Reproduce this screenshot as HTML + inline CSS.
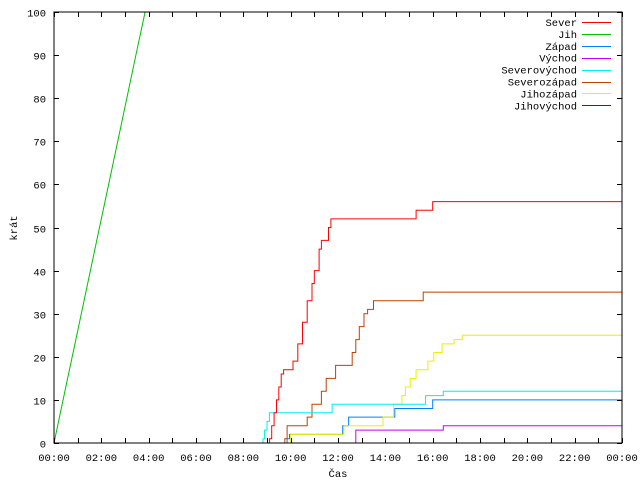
<!DOCTYPE html>
<html><head><meta charset="utf-8"><style>
body{margin:0;background:#fff;width:640px;height:480px;overflow:hidden}
svg text{font-family:"Liberation Mono",monospace;font-size:10.5px;fill:#000}
</style></head><body>
<svg id="chart" width="640" height="480" xmlns="http://www.w3.org/2000/svg">
<rect x="0" y="0" width="640" height="480" fill="#fff"/>
<g id="grid"></g><g id="series" clip-path="url(#clip)"></g><g id="frame"></g><g id="legend"></g>
<defs><clipPath id="clip"><rect x="54" y="12" width="568" height="431"/></clipPath></defs>
<text transform="translate(17,228) rotate(-90)" text-anchor="middle">krát</text>
<text x="338" y="477" text-anchor="middle">Čas</text>
</svg>
<script>
const xTickLabels=["00:00","02:00","04:00","06:00","08:00","10:00","12:00","14:00","16:00","18:00","20:00","22:00","00:00"];
const yTickValues=[0,10,20,30,40,50,60,70,80,90,100];
const seriesNames=["Sever","Jih","Západ","Východ","Severovýchod","Severozápad","Jihozápad","Jihovýchod"];
const seriesColors=["#ff0000","#00c000","#0080ff","#c000ff","#00eeee","#c04000","#eeee00","#2020c0"];
const severT=[9.1,9.2,9.3,9.4,9.5,9.6,9.7,10.1,10.3,10.5,10.7,10.9,11.0,11.2,11.3,11.6,11.7,15.3,16.0];
const severV=[1,4,7,10,13,16,17,19,23,28,33,37,40,45,47,50,52,54,56];
const jihT=[0,0.5,1,1.5,2,2.5,3,3.5,3.85,4];
const jihV=[0,13,26,39,52,65,78,91,100,104];
const zapadT=[9.85,9.95,12.2,12.45,14.4,16.0];
const zapadV=[1,2,4,6,8,10];
const vychodT=[12.75,16.45];
const vychodV=[3,4];
const svT=[8.83,8.9,9.0,9.1,11.75,15.7,16.45];
const svV=[1,3,5,7,9,11,12];
const szT=[9.75,9.85,10.7,10.9,11.3,11.5,11.9,12.6,12.75,12.9,13.1,13.25,13.5,15.6];
const szV=[1,4,6,9,12,15,18,21,24,27,30,31,33,35];
const jzT=[10.0,12.25,13.9,14.35,14.7,14.85,15.05,15.3,15.8,16.05,16.4,16.9,17.25];
const jzV=[2,4,6,9,11,13,15,17,19,21,23,24,25];
const jvT=[];
const jvV=[];

const X0=54,X1=622,Y0=443,Y1=12,HMAX=24,VMAX=100;
const xs=h=>X0+h*(X1-X0)/HMAX;
const ys=v=>Y0-v*(Y0-Y1)/VMAX;
const NS="http://www.w3.org/2000/svg";
function mk(tag,attrs,parent){const e=document.createElementNS(NS,tag);for(const k in attrs)e.setAttribute(k,attrs[k]);parent.appendChild(e);return e;}
const grid=document.getElementById('grid'),frame=document.getElementById('frame'),ser=document.getElementById('series'),leg=document.getElementById('legend');
mk('rect',{x:X0,y:Y1,width:X1-X0,height:Y0-Y1,fill:'none',stroke:'#000','stroke-width':1},frame);
for(let h=0;h<=HMAX;h++){
  const x=Math.round(xs(h))+0.5, len=5;
  mk('line',{x1:x,y1:Y0,x2:x,y2:Y0-len,stroke:'#000'},frame);
  mk('line',{x1:x,y1:Y1,x2:x,y2:Y1+len,stroke:'#000'},frame);
}
xTickLabels.forEach((l,i)=>{
  const t=mk('text',{x:xs(i*2),y:461,'text-anchor':'middle'},frame);t.textContent=l;
  
  
});
yTickValues.forEach(v=>{
  const y=Math.round(ys(v))+0.5;
  mk('line',{x1:X0,y1:y,x2:X0+5,y2:y,stroke:'#000'},frame);
  mk('line',{x1:X1,y1:y,x2:X1-5,y2:y,stroke:'#000'},frame);
  const t=mk('text',{x:46,y:y+4,'text-anchor':'end'},frame);t.textContent=v;
  
  
});
function stepPath(T,V){
  if(!T.length)return '';
  let d='M'+xs(T[0]).toFixed(1)+','+ys(0).toFixed(1);
  let prev=0;
  for(let i=0;i<T.length;i++){d+=' L'+xs(T[i]).toFixed(1)+','+ys(prev).toFixed(1)+' L'+xs(T[i]).toFixed(1)+','+ys(V[i]).toFixed(1);prev=V[i];}
  d+=' L'+xs(HMAX)+','+ys(prev).toFixed(1);
  return d;
}
function linePath(T,V){return T.map((t,i)=>(i?'L':'M')+xs(t).toFixed(1)+','+ys(V[i]).toFixed(1)).join(' ');}
const allT=[severT,jihT,zapadT,vychodT,svT,szT,jzT,jvT];
const allV=[severV,jihV,zapadV,vychodV,svV,szV,jzV,jvV];
const keys=["sever","jih","zapad","vychod","severovychod","severozapad","jihozapad","jihovychod"];
const order=[7,3,2,6,5,4,0,1];
order.forEach(i=>{
  if(!allT[i].length)return;
  const d=i===1?linePath(allT[i],allV[i]):stepPath(allT[i],allV[i]);
  const p=mk('path',{d:d,fill:'none',stroke:seriesColors[i],'stroke-width':1},ser);
  
  
});
seriesNames.forEach((n,i)=>{
  const y=22+i*11.9;
  const t=mk('text',{x:577,y:y+4,'text-anchor':'end'},leg);t.textContent=n;
  
  
  const l=mk('line',{x1:582,y1:Math.round(y)+0.5,x2:611,y2:Math.round(y)+0.5,stroke:seriesColors[i]},leg);
  
  
});
</script>
</body></html>
